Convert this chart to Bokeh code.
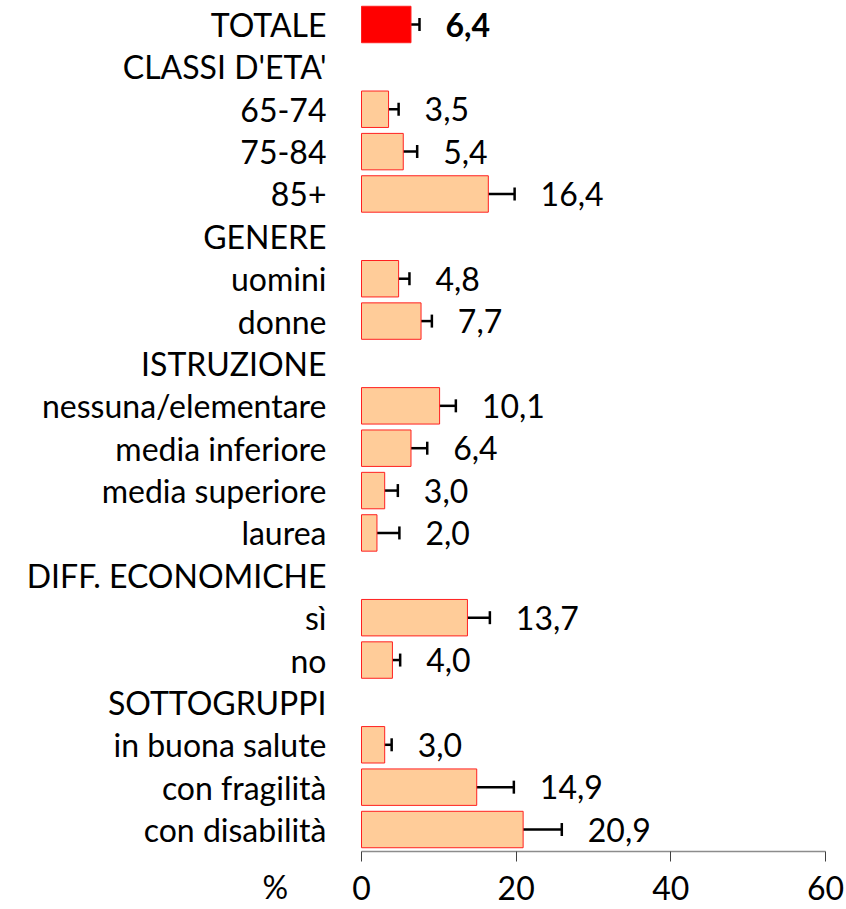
from bokeh.plotting import figure
from bokeh.models import ColumnDataSource, Whisker, TeeHead, FixedTicker, Range1d
from bokeh.core.properties import value
from bokeh.embed import file_html
from bokeh.resources import INLINE

categories = ["TOTALE", "CLASSI D'ETA'", "65-74", "75-84", "85+", "GENERE",
              "uomini", "donne", "ISTRUZIONE", "nessuna/elementare",
              "media inferiore", "media superiore", "laurea",
              "DIFF. ECONOMICHE", "sì", "no", "SOTTOGRUPPI",
              "in buona salute", "con fragilità", "con disabilità"]
values = [6.4, None, 3.5, 5.4, 16.4, None, 4.8, 7.7, None, 10.1, 6.4, 3.0, 2.0,
          None, 13.7, 4.0, None, 3.0, 14.9, 20.9]
ci_low = [5.6, None, 2.6, 4.1, 13.5, None, 3.6, 6.5, None, 8.3, 4.7, 1.9, 0.8,
          None, 11.3, 3.2, None, 2.2, 11.3, 16.6]
ci_high = [7.5, None, 4.8, 7.2, 19.8, None, 6.2, 9.1, None, 12.2, 8.5, 4.7, 4.9,
           None, 16.6, 5.0, None, 3.9, 19.7, 25.9]
x_ticks = [0, 20, 40, 60]
x_unit = "%"
total_label = "TOTALE"

FONT = "Lato"
FS = "32px"

# layout constants (pixels)
W, H = 846, 909
X0_PX, X60_PX = 361, 825          # screen x of 0 and 60
ROW0_PX, ROW_STEP = 24, 42.37     # centre of first row, row spacing
AXIS_PX = 851                     # screen y of x-axis line
ppu = (X60_PX - X0_PX) / (x_ticks[-1] - x_ticks[0])
x_start = -X0_PX / ppu
x_end = x_ticks[-1] + (W - X60_PX) / ppu
y_top = -ROW0_PX / ROW_STEP
y_bottom = (H - ROW0_PX) / ROW_STEP
y_axis_pos = (AXIS_PX - ROW0_PX) / ROW_STEP

idx = [i for i, v in enumerate(values) if v is not None]
src = ColumnDataSource(dict(
    y=[i for i in idx],
    v=[values[i] for i in idx],
    lo=[ci_low[i] for i in idx],
    hi=[ci_high[i] for i in idx],
    lab=[f"{values[i]:.1f}".replace(".", ",") for i in idx],
    fill=["#FF0000" if categories[i] == total_label else "#FFCC99" for i in idx],
    style=["bold" if categories[i] == total_label else "normal" for i in idx],
))

p = figure(width=W, height=H, output_backend="svg", toolbar_location=None,
           x_range=Range1d(x_start, x_end), y_range=Range1d(y_bottom, y_top),
           min_border_left=0, min_border_right=0, min_border_top=0,
           min_border_bottom=0)
p.outline_line_color = None
p.grid.grid_line_color = None
p.background_fill_color = "white"

p.hbar(y="y", right="v", left=0, height=0.86, fill_color="fill",
       line_color="#FF2020", line_width=1, source=src)

w = Whisker(source=src, base="y", lower="lo", upper="hi", dimension="width",
            line_color="black", line_width=2.5,
            lower_head=TeeHead(size=13, line_width=2.5, line_color="black"),
            upper_head=TeeHead(size=13, line_width=2.5, line_color="black"))
p.add_layout(w)

p.text(x="hi", y="y", text="lab", x_offset=26, text_baseline="middle",
       text_align="left", text_font=value(FONT), text_font_size=FS,
       text_font_style="style", text_color="black", source=src)

# y axis with category names, pinned at x = 0
p.yaxis.fixed_location = 0
p.yaxis.ticker = FixedTicker(ticks=list(range(len(categories))))
p.yaxis.major_label_overrides = {i: c for i, c in enumerate(categories)}
p.yaxis.axis_line_color = None
p.yaxis.major_tick_line_color = None
p.yaxis.minor_tick_line_color = None
p.yaxis.major_label_standoff = 29
p.yaxis.major_label_text_font = FONT
p.yaxis.major_label_text_font_size = FS
p.yaxis.major_label_text_color = "black"

# x axis pinned below the last row
p.xaxis.fixed_location = y_axis_pos
p.xaxis.bounds = (x_ticks[0], x_ticks[-1])
p.xaxis.ticker = FixedTicker(ticks=x_ticks)
p.xaxis.axis_line_color = "#8c8c8c"
p.xaxis.axis_line_width = 1.5
p.xaxis.major_tick_line_color = "#404040"
p.xaxis.major_tick_in = 0
p.xaxis.major_tick_out = 10
p.xaxis.minor_tick_line_color = None
p.xaxis.major_label_standoff = 14
p.xaxis.major_label_text_font = FONT
p.xaxis.major_label_text_font_size = FS
p.xaxis.major_label_text_color = "black"

# unit label left of the tick labels
p.text(x=[x_start + 262 / ppu], y=[y_axis_pos + 35 / ROW_STEP], text=[x_unit],
       text_baseline="middle", text_align="left", text_font=value(FONT),
       text_font_size=FS, text_color="black")

open("out.html", "w").write(file_html(p, INLINE))
